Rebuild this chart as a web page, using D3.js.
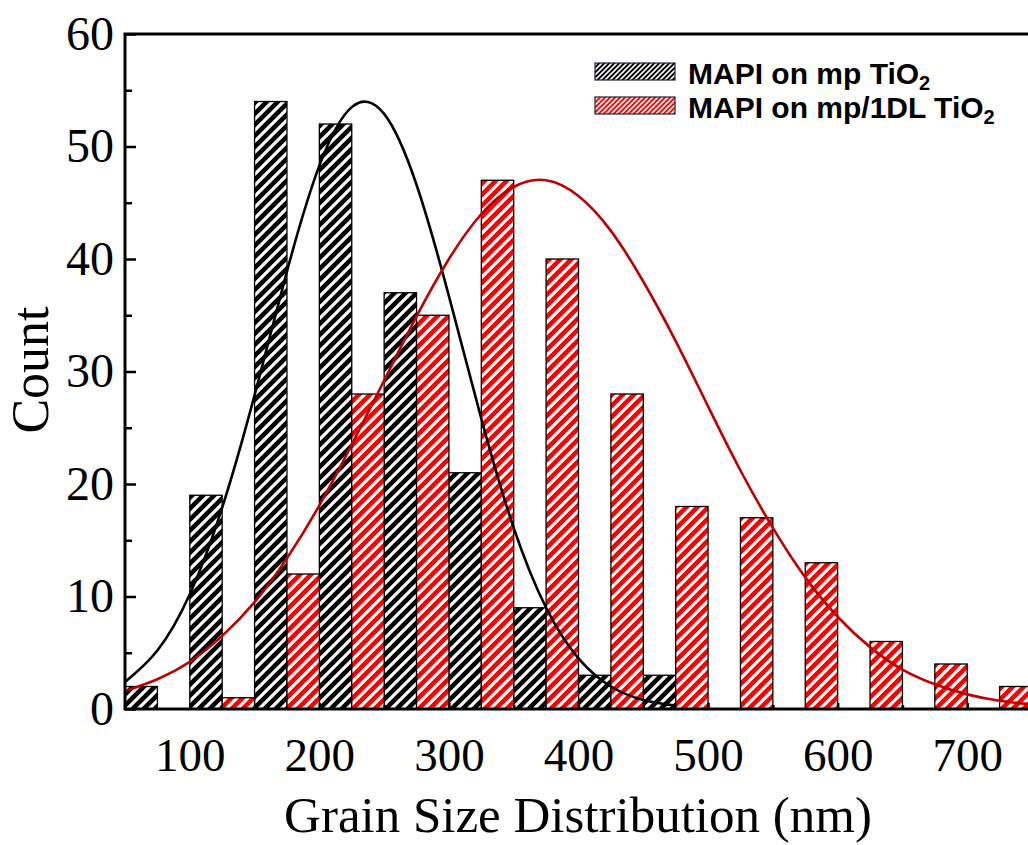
<!DOCTYPE html>
<html>
<head>
<meta charset="utf-8">
<script src="https://cdn.jsdelivr.net/npm/d3@7"></script>
<style>
  html, body { margin: 0; padding: 0; background: #fff; }
  svg { display: block; }
</style>
</head>
<body>
<svg id="chart" width="1028" height="845"></svg>
<script>
// Histogram bins (lower edge of each 50 nm bin)
const binStart = [50, 100, 150, 200, 250, 300, 350, 400, 450, 500, 550, 600, 650, 700];
// Counts per bin for each film
const countMp     = [2, 19, 54, 52, 37, 21, 9, 3, 3, 0, 0, 0, 0, 0];
const countMp1DL  = [0, 1, 12, 28, 35, 47, 40, 28, 18, 17, 13, 6, 4, 2];

// Fitted distribution curves, sampled every 25 nm
const fitMpX      = [50, 75, 100, 125, 150, 175, 200, 225, 250, 275, 300, 325, 350, 375, 400, 425, 450, 475];
const fitMpY      = [2.4, 5.2, 10.2, 17.9, 27.9, 38.9, 48.3, 53.5, 52.9, 46.6, 36.7, 25.8, 16.1, 9.0, 4.5, 2.0, 0.8, 0.3];
const fitMp1DLX   = [50, 75, 100, 125, 150, 175, 200, 225, 250, 275, 300, 325, 350, 375, 400, 425, 450, 475, 500, 525, 550, 575, 600, 625, 650, 675, 700, 725, 750];
const fitMp1DLY   = [1.6, 2.65, 4.2, 6.5, 9.5, 13.4, 18.1, 23.5, 29.2, 34.9, 40.0, 44.0, 46.4, 47.0, 45.6, 42.5, 38.0, 32.7, 26.9, 21.2, 16.1, 11.7, 8.2, 5.5, 3.5, 2.2, 1.3, 0.73, 0.4];

// Axis ticks
const xTicks = [100, 200, 300, 400, 500, 600, 700];
const xMinorTicks = [150, 250, 350, 450, 550, 650, 750];
const yTicks = [0, 10, 20, 30, 40, 50, 60];
const yMinorTicks = [5, 15, 25, 35, 45, 55];

const seriesNames = ["MAPI on mp TiO", "MAPI on mp/1DL TiO"];

const svg = d3.select("#chart");
const plotLeft = 125, plotRight = 1032, plotTop = 34, plotBottom = 709;

const x = d3.scaleLinear().domain([50, 750]).range([plotLeft, plotRight]);
const y = d3.scaleLinear().domain([0, 60]).range([plotBottom, plotTop]);

// Hatch patterns: white diagonal stripes over a solid fill
const defs = svg.append("defs");
function hatch(id, fill, size, sw) {
  const p = defs.append("pattern")
    .attr("id", id)
    .attr("patternUnits", "userSpaceOnUse")
    .attr("width", size).attr("height", size);
  p.append("rect").attr("width", size).attr("height", size).attr("fill", fill);
  p.append("path")
    .attr("d", `M-2,2 L2,-2 M0,${size} L${size},0 M${size - 2},${size + 2} L${size + 2},${size - 2}`)
    .attr("stroke", "#fff").attr("stroke-width", sw);
}
hatch("hatchBlack", "#000", 11, 3.2);
hatch("hatchRed", "#ff0000", 11, 3.2);
hatch("legBlack", "#000", 5, 1.6);
hatch("legRed", "#ff0000", 5, 1.6);

const halfBin = 25;

// Bars: mp TiO2 on the left half of each bin, mp/1DL TiO2 on the right half
const barsG = svg.append("g");
barsG.selectAll("rect.mp")
  .data(binStart.map((s, i) => ({ s, v: countMp[i] })).filter(d => d.v > 0))
  .join("rect")
  .attr("class", "mp")
  .attr("x", d => x(d.s))
  .attr("width", d => x(d.s + halfBin) - x(d.s))
  .attr("y", d => y(d.v))
  .attr("height", d => y(0) - y(d.v))
  .attr("fill", "url(#hatchBlack)")
  .attr("stroke", "#000").attr("stroke-width", 1.3);

barsG.selectAll("rect.dl")
  .data(binStart.map((s, i) => ({ s, v: countMp1DL[i] })).filter(d => d.v > 0))
  .join("rect")
  .attr("class", "dl")
  .attr("x", d => x(d.s + halfBin))
  .attr("width", d => x(d.s + 2 * halfBin) - x(d.s + halfBin))
  .attr("y", d => y(d.v))
  .attr("height", d => y(0) - y(d.v))
  .attr("fill", "url(#hatchRed)")
  .attr("stroke", "#000").attr("stroke-width", 1.3);

// Fit curves
const line = d3.line().x(d => x(d[0])).y(d => y(d[1])).curve(d3.curveNatural);
svg.append("path")
  .attr("d", line(fitMpX.map((v, i) => [v, fitMpY[i]])))
  .attr("fill", "none").attr("stroke", "#000").attr("stroke-width", 2.6);
svg.append("path")
  .attr("d", line(fitMp1DLX.map((v, i) => [v, fitMp1DLY[i]])))
  .attr("fill", "none").attr("stroke", "#c00000").attr("stroke-width", 2.6);

// Axes
const tickFont = "'Liberation Serif', 'Times New Roman', serif";
const xAxis = svg.append("g").attr("transform", `translate(0,${plotBottom})`)
  .call(d3.axisBottom(x).tickValues(xTicks).tickSizeInner(-6).tickSizeOuter(0).tickPadding(29));
xAxis.select(".domain").remove();
xAxis.selectAll("line").attr("stroke-width", 2.5);
xAxis.selectAll("text").attr("font-family", tickFont).attr("font-size", 47).attr("fill", "#000");

const xMinor = svg.append("g").attr("transform", `translate(0,${plotBottom})`)
  .call(d3.axisBottom(x).tickValues(xMinorTicks).tickSizeInner(-4).tickSizeOuter(0).tickFormat(""));
xMinor.select(".domain").remove();
xMinor.selectAll("line").attr("stroke-width", 2.5);

const yAxis = svg.append("g").attr("transform", `translate(${plotLeft},0)`)
  .call(d3.axisLeft(y).tickValues(yTicks).tickSizeInner(-11).tickSizeOuter(0).tickPadding(11));
yAxis.select(".domain").remove();
yAxis.selectAll("line").attr("stroke-width", 2.5);
yAxis.selectAll("text").attr("font-family", tickFont).attr("font-size", 48).attr("fill", "#000");

const yMinor = svg.append("g").attr("transform", `translate(${plotLeft},0)`)
  .call(d3.axisLeft(y).tickValues(yMinorTicks).tickSizeInner(-7).tickSizeOuter(0).tickFormat(""));
yMinor.select(".domain").remove();
yMinor.selectAll("line").attr("stroke-width", 2.5);

// Frame
svg.append("rect")
  .attr("x", plotLeft).attr("y", plotTop)
  .attr("width", plotRight - plotLeft).attr("height", plotBottom - plotTop)
  .attr("fill", "none").attr("stroke", "#000").attr("stroke-width", 3);

// Axis titles
svg.append("text")
  .attr("x", 578).attr("y", 832)
  .attr("text-anchor", "middle")
  .attr("font-family", tickFont).attr("font-size", 51)
  .text("Grain Size Distribution (nm)");

svg.append("text")
  .attr("transform", "translate(48,370) rotate(-90)")
  .attr("text-anchor", "middle")
  .attr("font-family", tickFont).attr("font-size", 52)
  .text("Count");

// Legend
const legend = svg.append("g");
const legFills = ["url(#legBlack)", "url(#legRed)"];
seriesNames.forEach((name, i) => {
  const yy = 63 + i * 34;
  legend.append("rect")
    .attr("x", 595).attr("y", yy).attr("width", 80).attr("height", 17)
    .attr("fill", legFills[i]).attr("stroke", "#1d2238").attr("stroke-width", 1.2);
  const t = legend.append("text")
    .attr("x", 688).attr("y", yy + 21)
    .attr("font-family", "'Liberation Sans', Arial, sans-serif")
    .attr("font-weight", "bold").attr("font-size", 30).attr("fill", "#000");
  t.append("tspan").text(name);
  t.append("tspan").attr("font-size", 20).attr("dy", 6).text("2");
});
</script>
</body>
</html>
